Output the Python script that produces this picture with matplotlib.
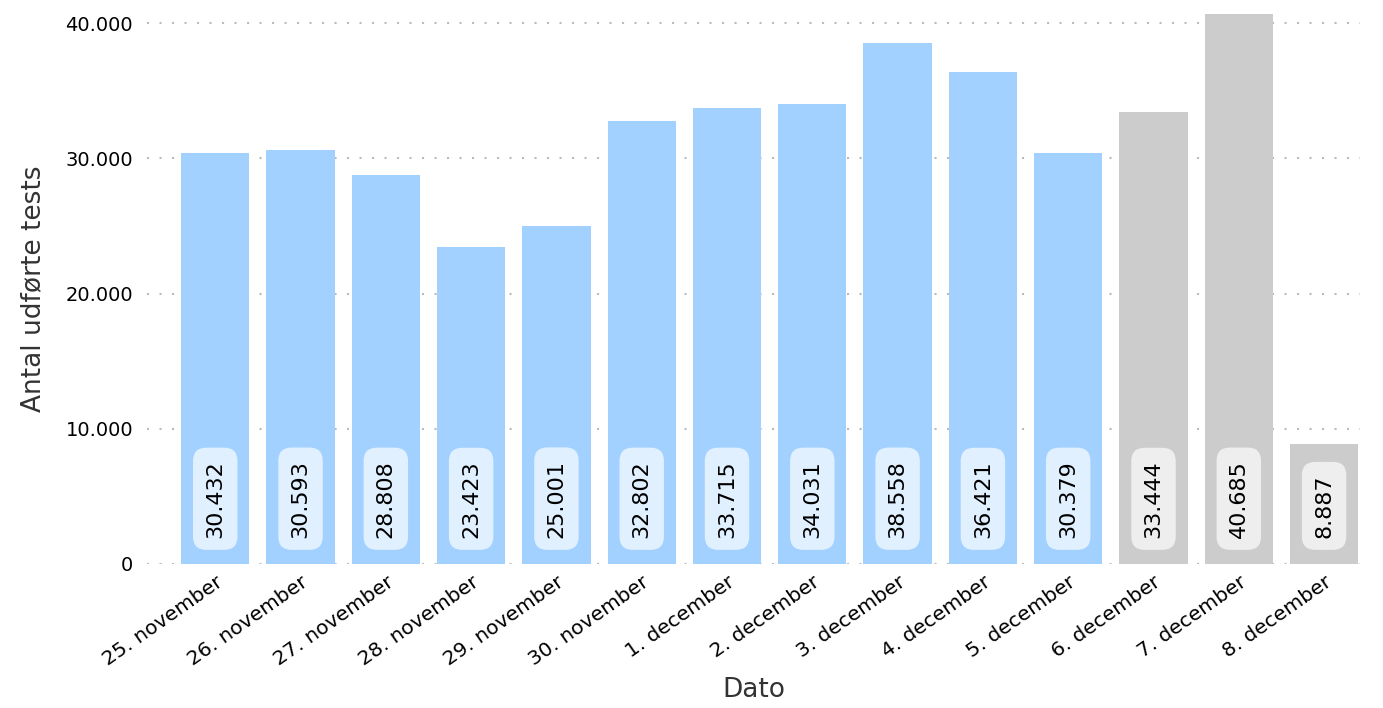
import matplotlib.pyplot as plt
import matplotlib.transforms as mtransforms
import numpy as np

dates = ['25. november', '26. november', '27. november', '28. november',
         '29. november', '30. november', '1. december', '2. december',
         '3. december', '4. december', '5. december', '6. december',
         '7. december', '8. december']
tests = [30432, 30593, 28808, 23423, 25001, 32802, 33715, 34031,
         38558, 36421, 30379, 33444, 40685, 8887]
# the last three days are still incomplete
incomplete = [False] * 11 + [True] * 3


def fmt(v):
    return f'{v:,.0f}'.replace(',', '.')


plt.rcParams['font.family'] = 'DejaVu Sans'
fig = plt.figure(figsize=(13.83, 7.08), dpi=100)
ax = fig.add_axes([0.1063, 0.2034, 0.877, 0.7768])

x = np.arange(len(dates))
colors = ['#cccccc' if inc else '#a3d1ff' for inc in incomplete]
boxcolors = ['#eeeeee' if inc else '#e1f0ff' for inc in incomplete]
ax.bar(x, tests, width=0.8, color=colors, zorder=2)

for xi, v, bc in zip(x, tests, boxcolors):
    ax.text(xi, 1950, fmt(v), rotation=90, ha='center', va='bottom',
            fontsize=16, color='black', zorder=3,
            bbox=dict(boxstyle='round,pad=0.55,rounding_size=0.6',
                      fc=bc, ec='none'))

ax.set_xlim(-0.8, 13.42)
ax.set_ylim(0, 40685)
ax.set_yticks([0, 10000, 20000, 30000, 40000])
ax.set_yticklabels([fmt(t) for t in [0, 10000, 20000, 30000, 40000]],
                   fontsize=14)
ax.set_xticks(x)
ax.set_xticklabels(dates, rotation=35, ha='right', rotation_mode='anchor',
                   fontsize=14.5)
shift = mtransforms.ScaledTranslation(-10 / 100, 0, fig.dpi_scale_trans)
for lbl in ax.get_xticklabels():
    lbl.set_transform(lbl.get_transform() + shift)
ax.tick_params(length=0, pad=10)
ax.tick_params(axis='x', pad=6)
ax.yaxis.grid(True, linestyle=(0, (1, 5)), color='#bbbbbb', linewidth=1.5,
              zorder=0)
for s in ax.spines.values():
    s.set_visible(False)

ax.set_xlabel('Dato', fontsize=19, color='#333333', labelpad=6)
ax.set_ylabel('Antal udførte tests', fontsize=19, color='#333333',
              labelpad=14)

fig.savefig('out.png', dpi=100)
